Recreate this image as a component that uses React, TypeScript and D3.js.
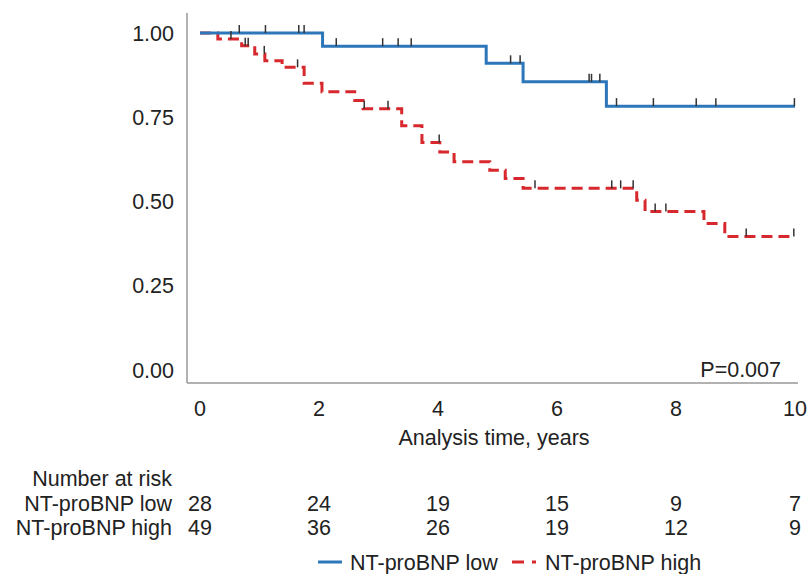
import React from "react";
import * as d3 from "d3";

// step points [time, survival]
const lowSteps: [number, number][] = [
  [0, 1],
  [2.06, 0.961],
  [4.81, 0.91],
  [5.43, 0.855],
  [6.83, 0.783],
];
const lowCensor = [
  0.66, 1.1, 1.66, 1.75, 2.29, 3.07, 3.33, 3.55, 5.22, 5.38, 6.54, 6.58, 6.72,
  7.0, 7.62, 8.34, 8.67, 9.99,
];

const highSteps: [number, number][] = [
  [0, 1],
  [0.3, 0.982],
  [0.7, 0.962],
  [0.92, 0.938],
  [1.09, 0.918],
  [1.38, 0.898],
  [1.75, 0.851],
  [2.05, 0.826],
  [2.6, 0.8],
  [2.74, 0.775],
  [3.39, 0.725],
  [3.73, 0.675],
  [4.03, 0.647],
  [4.27, 0.618],
  [4.87, 0.593],
  [5.13, 0.568],
  [5.43, 0.539],
  [7.34, 0.504],
  [7.48, 0.47],
  [8.47, 0.435],
  [8.82, 0.396],
];
const highCensor = [
  0.52, 0.76, 0.81, 1.08, 1.64, 2.76, 3.16, 4.02, 5.63, 6.92, 7.07, 7.28, 7.65,
  7.83, 9.18, 9.98,
];

const xTicks = [0, 2, 4, 6, 8, 10];
const yTicks = [0, 0.25, 0.5, 0.75, 1];
const riskLow = [28, 24, 19, 15, 9, 7];
const riskHigh = [49, 36, 26, 19, 12, 9];

const BLUE = "#2d76b9";
const RED = "#d7282d";
const FONT = "'Liberation Sans', Arial, sans-serif";
const FS = 21.5;

function survAt(steps: [number, number][], t: number) {
  let s = 1;
  for (const [tt, v] of steps) if (tt <= t) s = v;
  return s;
}

export default function App() {
  const x = d3.scaleLinear().domain([0, 10]).range([200, 795]);
  const y = d3.scaleLinear().domain([0, 1]).range([370, 33]);

  const line = d3
    .line<[number, number]>()
    .x((d) => x(d[0]))
    .y((d) => y(d[1]))
    .curve(d3.curveStepAfter);

  const withEnd = (s: [number, number][]): [number, number][] => [
    ...s,
    [10, s[s.length - 1][1]],
  ];

  const ticks = (times: number[], steps: [number, number][]) =>
    times.map((t, i) => {
      const yy = y(survAt(steps, t));
      return (
        <line
          key={i}
          x1={x(t)}
          x2={x(t)}
          y1={yy}
          y2={yy - 8}
          stroke="#333"
          strokeWidth={1.5}
        />
      );
    });

  return (
    <svg
      width={809}
      height={574}
      style={{ position: "absolute", left: 0, top: 0, background: "#fff" }}
      fontFamily={FONT}
    >
      {/* axes */}
      <line x1={187} x2={187} y1={13} y2={383} stroke="#999" strokeWidth={1.5} />
      <line x1={187} x2={798} y1={383} y2={383} stroke="#999" strokeWidth={1.5} />
      {yTicks.map((t) => (
        <text
          key={t}
          x={174}
          y={y(t)}
          dy="0.35em"
          textAnchor="end"
          fontSize={FS}
          fill="#222"
        >
          {d3.format(".2f")(t)}
        </text>
      ))}
      {xTicks.map((t) => (
        <text
          key={t}
          x={x(t)}
          y={408}
          dy="0.35em"
          textAnchor="middle"
          fontSize={FS}
          fill="#222"
        >
          {t}
        </text>
      ))}
      <text x={494} y={437} dy="0.35em" textAnchor="middle" fontSize={FS} fill="#222">
        Analysis time, years
      </text>
      <text x={781} y={369} dy="0.35em" textAnchor="end" fontSize={FS} fill="#222">
        P=0.007
      </text>

      {/* curves */}
      <path
        d={line(withEnd(highSteps)) || ""}
        fill="none"
        stroke={RED}
        strokeWidth={3}
        strokeDasharray="11 6"
      />
      <path
        d={line(withEnd(lowSteps)) || ""}
        fill="none"
        stroke={BLUE}
        strokeWidth={3}
      />
      {ticks(lowCensor, lowSteps)}
      {ticks(highCensor, highSteps)}

      {/* number at risk */}
      <g fontSize={FS} fill="#222">
        <text x={172} y={478} dy="0.35em" textAnchor="end">
          Number at risk
        </text>
        <text x={172} y={503} dy="0.35em" textAnchor="end">
          NT-proBNP low
        </text>
        <text x={172} y={527} dy="0.35em" textAnchor="end">
          NT-proBNP high
        </text>
        {riskLow.map((n, i) => (
          <text key={"l" + i} x={x(xTicks[i])} y={503} dy="0.35em" textAnchor="middle">
            {n}
          </text>
        ))}
        {riskHigh.map((n, i) => (
          <text key={"h" + i} x={x(xTicks[i])} y={527} dy="0.35em" textAnchor="middle">
            {n}
          </text>
        ))}
      </g>

      {/* legend */}
      <g fontSize={FS} fill="#222">
        <line x1={318} x2={342} y1={562} y2={562} stroke={BLUE} strokeWidth={3} />
        <text x={350} y={562} dy="0.35em">
          NT-proBNP low
        </text>
        <line
          x1={512}
          x2={537}
          y1={562}
          y2={562}
          stroke={RED}
          strokeWidth={3}
          strokeDasharray="12 8 4 8"
        />
        <text x={545} y={562} dy="0.35em">
          NT-proBNP high
        </text>
      </g>
    </svg>
  );
}
